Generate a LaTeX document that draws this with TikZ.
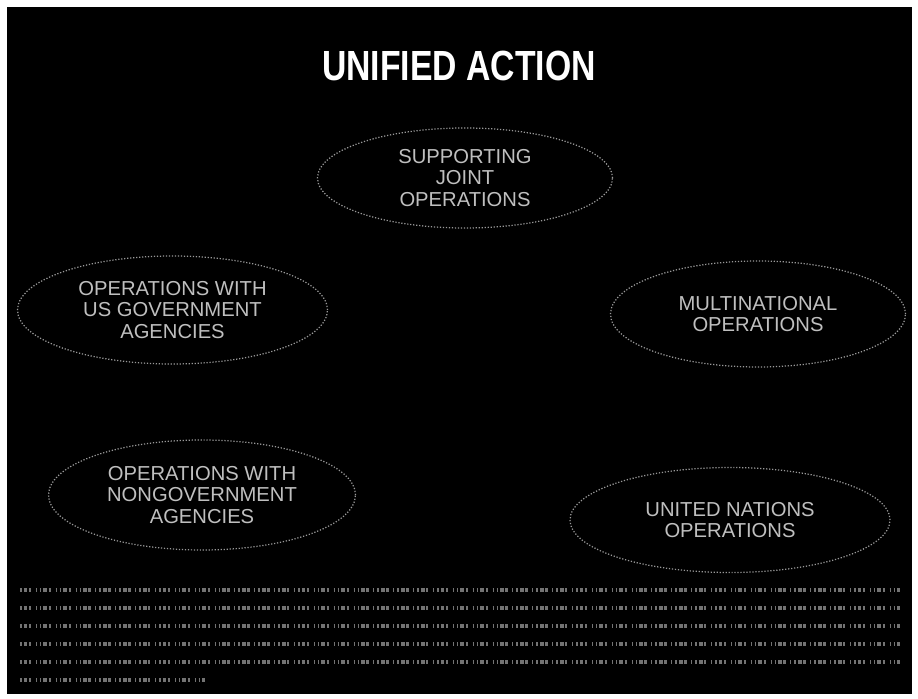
\documentclass[tikz,border=0pt]{standalone}
\usepackage{fontspec}
\setmainfont{Liberation Sans}
\usetikzlibrary{shapes.geometric}
\begin{document}
\begin{tikzpicture}[x=1cm, y=1cm,
    opnode/.style={ellipse, draw=white!60!black, densely dotted, line width=0.7pt,
      inner sep=0pt, align=center, text=white!75!black,
      font=\fontsize{11.5}{12}\selectfont},
    textrow/.style={draw=white!45!black, line width=2.8pt,
      dash pattern=on 0.9pt off 1.1pt on 2.2pt off 0.8pt on 1.4pt off 2.6pt on 0.6pt off 1.7pt}]
  % Page and black panel
  \useasboundingbox (0,0) rectangle (18.36,-13.98);
  \fill[white] (0,0) rectangle (18.36,-13.98);
  \fill[black] (0.14,-0.14) rectangle (18.24,-13.88);
  % Title
  \node[text=white, font=\bfseries\fontsize{24}{26}\selectfont] (title) at (9.18,-1.32)
    {\scalebox{0.8}[1]{UNIFIED ACTION}};
  % The five kinds of operations
  \node[opnode, minimum width=5.9cm, minimum height=2.0cm] (joint) at (9.3,-3.56)
    {SUPPORTING\\JOINT\\OPERATIONS};
  \node[opnode, minimum width=6.2cm, minimum height=2.16cm] (usgov) at (3.45,-6.2)
    {OPERATIONS WITH\\US GOVERNMENT\\AGENCIES};
  \node[opnode, minimum width=5.9cm, minimum height=2.12cm] (multi) at (15.16,-6.28)
    {MULTINATIONAL\\OPERATIONS};
  \node[opnode, minimum width=6.14cm, minimum height=2.2cm] (ngo) at (4.04,-9.9)
    {OPERATIONS WITH\\NONGOVERNMENT\\AGENCIES};
  \node[opnode, minimum width=6.4cm, minimum height=2.1cm] (un) at (14.6,-10.4)
    {UNITED NATIONS\\OPERATIONS};
  % Illegible caption lines below the diagram
  \foreach \i/\xe in {0/18.0,1/18.0,2/18.0,3/18.0,4/18.0,5/4.1}{
    \coordinate (rowa\i) at (0.4,{-11.8-0.36*\i});
    \coordinate (rowb\i) at (\xe,{-11.8-0.36*\i});
    \draw[textrow] (rowa\i) -- (rowb\i);
  }
\end{tikzpicture}
\end{document}
